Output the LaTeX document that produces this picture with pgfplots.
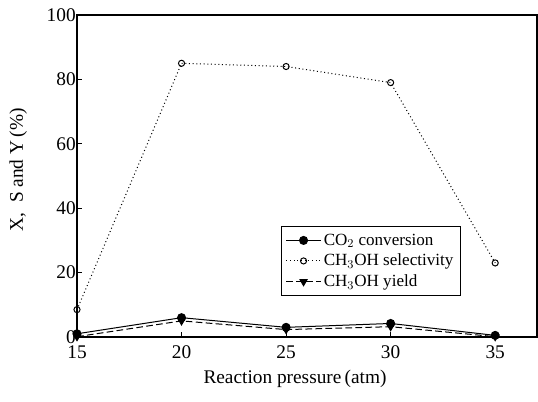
\documentclass[border=0pt]{standalone}
\usepackage{fontspec}
\setmainfont{Liberation Serif}
\usepackage{pgfplots}
\pgfplotsset{compat=1.18}

\begin{document}
\begin{tikzpicture}
\useasboundingbox (-57.75pt,-48.75pt) rectangle (345.75pt,252.75pt);
\begin{axis}[
  at={(0,0)}, anchor=south west,
  scale only axis,
  width=345pt, height=241.5pt,
  xmin=15, xmax=37, ymin=0, ymax=100,
  xtick={15,20,25,30,35},
  ytick={0,20,40,60,80,100},
  xtick pos=bottom, ytick pos=left,
  axis line style={line width=1pt},
  tick style={line width=0.7pt, black},
  tick align=inside,
  major tick length=4pt,
  /pgf/number format/assume math mode=true,
  tick label style={font=\fontsize{14.5}{16}\selectfont, inner sep=0.5pt},
  xticklabel style={yshift=-5.5pt},
  yticklabel style={xshift=-0.3pt},
  label style={font=\fontsize{14.5}{16}\selectfont},
  xlabel={Reaction pressure\,(atm)},
  ylabel={X,\ \ S and Y\,(\%)},
  xlabel style={at={(axis description cs:0.474,-0.130)}, anchor=center},
  ylabel style={at={(axis description cs:-0.128,0.519)}, anchor=center},
  clip=false,
  legend style={
    at={(axis description cs:0.443,0.345)}, anchor=north west,
    draw=black, line width=0.8pt,
    font=\fontsize{12.8}{14}\selectfont,
    row sep=1.2pt, inner sep=3.5pt,
    cells={anchor=west},
  },
  legend image code/.code={%
    \draw[mark repeat=2, mark phase=2] plot coordinates {(0cm,0cm) (0.45cm,0cm) (0.9cm,0cm)};},
  legend image post style={line width=0.75pt},
]
\addplot[black, line width=0.75pt, solid, mark=*, mark size=3pt]
  coordinates {(15,1.0) (20,6.0) (25,3.0) (30,4.2) (35,0.5)};
\addlegendentry{CO$_2$ conversion}
\addplot[black, line width=0.75pt, dotted, mark=o, mark size=2.3pt, mark options={solid, fill=white}]
  coordinates {(15,8.5) (20,85) (25,84) (30,79) (35,23)};
\addlegendentry{CH$_3$OH selectivity}
\addplot[black, line width=0.75pt, dash pattern=on 5pt off 2.5pt, mark=triangle*, mark size=3pt, mark options={solid, rotate=180}]
  coordinates {(15,0.1) (20,5.0) (25,2.3) (30,3.2) (35,0.1)};
\addlegendentry{CH$_3$OH yield}
\end{axis}
\end{tikzpicture}
\end{document}
